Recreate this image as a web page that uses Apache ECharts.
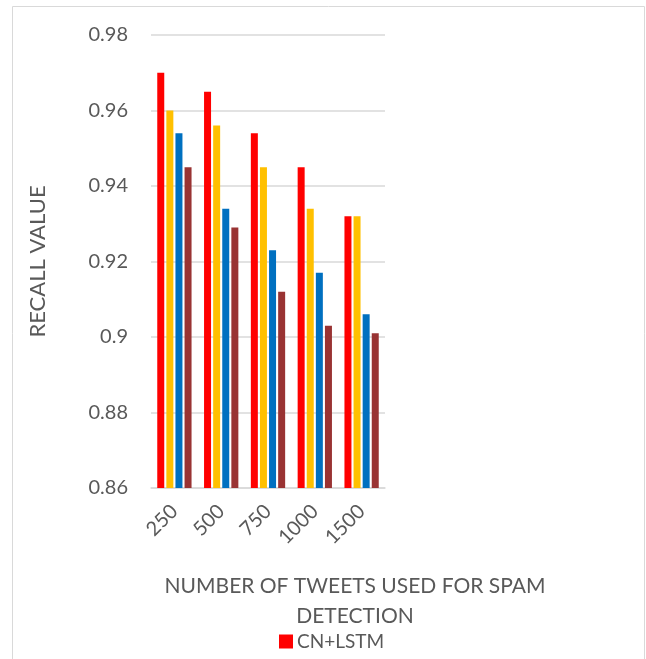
<!DOCTYPE html>
<html>
<head>
<meta charset="utf-8">
<script src="https://cdn.jsdelivr.net/npm/echarts@6/dist/echarts.min.js"></script>
<style>
  html, body { margin: 0; padding: 0; background: #fff; }
  #main { width: 646px; height: 659px; }
</style>
</head>
<body>
<div id="main"></div>
<script>
var chartDom = document.getElementById("main");
var myChart = echarts.init(chartDom);

// tweet counts on the x axis
var categories = ["250", "500", "750", "1000", "1500"];
// only the first legend entry is visible in the picture
var seriesNames = ["CN+LSTM", "Method 2", "Method 3", "Method 4"];
var seriesColors = ["#FF0000", "#FFC000", "#0070C0", "#993333"];

var cnLstm = [0.970, 0.965, 0.954, 0.945, 0.932];
var method2 = [0.960, 0.956, 0.945, 0.934, 0.932];
var method3 = [0.954, 0.934, 0.923, 0.917, 0.906];
var method4 = [0.945, 0.929, 0.912, 0.903, 0.901];

var values = [cnLstm, method2, method3, method4];

var font = "Lato, 'Open Sans', sans-serif";
var grey = "#595959";

var option = {
  animation: false,
  graphic: [
    {
      type: "rect",
      shape: { x: 12.5, y: 6.5, width: 632, height: 670 },
      style: { fill: "none", stroke: "#d9d9d9", lineWidth: 1 },
    },
  ],
  title: {
    text: "NUMBER OF TWEETS USED FOR SPAM\nDETECTION",
    left: 350,
    top: 566,
    textAlign: "center",
    textStyle: {
      fontFamily: font,
      fontSize: 21,
      fontWeight: "normal",
      color: grey,
      lineHeight: 30,
    },
  },
  legend: {
    data: ["CN+LSTM"],
    left: 274,
    top: 627,
    itemWidth: 14,
    itemHeight: 14,
    itemGap: 10,
    icon: "rect",
    textStyle: { fontFamily: font, fontSize: 19, color: grey, padding: [0, 0, 0, -1] },
  },
  grid: {
    left: 151,
    right: 261,
    top: 35,
    bottom: 171,
  },
  xAxis: {
    type: "category",
    data: categories,
    axisLine: { lineStyle: { color: "#d9d9d9", width: 1.5 } },
    axisTick: { show: false },
    axisLabel: {
      rotate: 45,
      margin: 20,
      fontFamily: font,
      fontSize: 20,
      color: grey,
    },
  },
  yAxis: {
    type: "value",
    min: 0.86,
    max: 0.98,
    interval: 0.02,
    name: "RECALL VALUE",
    nameLocation: "middle",
    nameGap: 102,
    nameTextStyle: { fontFamily: font, fontSize: 22, color: grey },
    axisLine: { show: false },
    axisTick: { show: false },
    splitLine: { lineStyle: { color: "#d9d9d9", width: 1.5 } },
    axisLabel: {
      margin: 23,
      fontFamily: font,
      fontSize: 20,
      color: grey,
      formatter: function (v) {
        return String(+v.toFixed(2));
      },
    },
  },
  series: values.map(function (vals, i) {
    return {
      name: seriesNames[i],
      type: "bar",
      data: vals,
      barWidth: 7,
      barGap: "30%",
      itemStyle: { color: seriesColors[i] },
    };
  }),
};

option && myChart.setOption(option);
</script>
</body>
</html>
